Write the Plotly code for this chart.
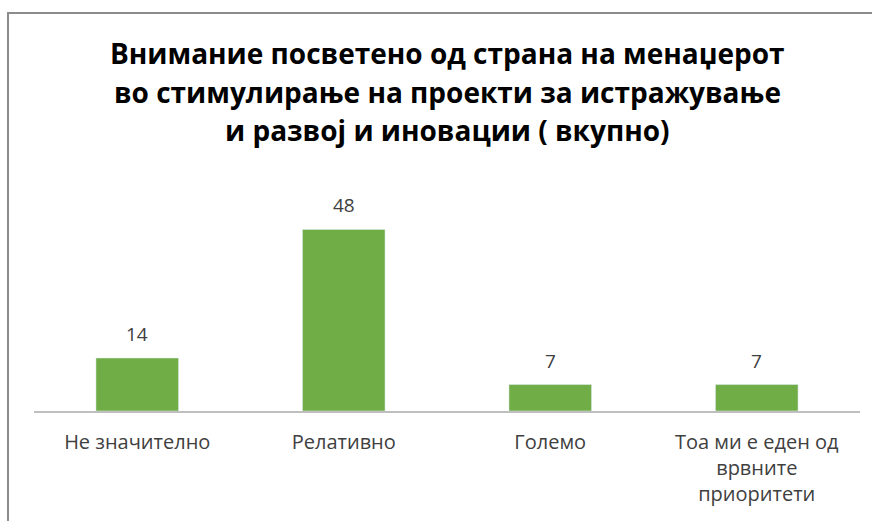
import plotly.graph_objects as go

categories = ["Не значително", "Релативно", "Големо", "Тоа ми е еден од врвните приоритети"]
tick_labels = ["Не значително", "Релативно", "Големо", "Тоа ми е еден од<br>врвните<br>приоритети"]
values = [14, 48, 7, 7]
title_lines = [
    "Внимание посветено од страна на менаџерот",
    "во стимулирање на проекти за истражување",
    "и развој и иновации ( вкупно)",
]

GREEN = "#70AD47"
FONT = "Open Sans"

fig = go.Figure()
fig.add_trace(go.Bar(
    x=categories, y=values, marker_color=GREEN, width=0.4,
    hoverinfo="skip",
))

for c, v in zip(categories, values):
    fig.add_annotation(x=c, y=v, text=str(v), showarrow=False, yanchor="bottom",
                       yshift=9, font=dict(family=FONT, size=19, color="#404040"))

# title lines (Excel-like line spacing)
PLOT_BOTTOM_PX, PLOT_H = 411, 227
for i, line in enumerate(title_lines):
    center_px = 53 + i * 38.5
    fig.add_annotation(text=line, xref="paper", yref="paper", x=0.5, xanchor="center",
                       y=(PLOT_BOTTOM_PX - center_px) / PLOT_H, yanchor="middle", showarrow=False,
                       font=dict(family=FONT, size=28, color="black", weight="bold"))

fig.update_layout(
    width=872, height=521,
    margin=dict(l=34, r=12, t=184, b=110),
    paper_bgcolor="white", plot_bgcolor="white",
    showlegend=False,
    xaxis=dict(tickvals=categories, ticktext=tick_labels, showline=True, linecolor="#BFBFBF",
               linewidth=2, ticks="", tickfont=dict(family=FONT, size=20, color="#404040"),
               ticklabelstandoff=12,
               showgrid=False, zeroline=False, fixedrange=True, automargin=False),
    yaxis=dict(range=[0, 60], visible=False, showgrid=False, zeroline=False, fixedrange=True,
               automargin=False),
    bargap=0.6,
)

fig.add_shape(type="rect", xref="paper", yref="paper", x0=(8 - 34) / 826, x1=1.2,
              y0=-1.0, y1=(411 - 13) / 227, line=dict(color="#8C8C8C", width=2), layer="below")

fig.write_html("out.html", post_script="document.body.style.margin='0';",
               config={"displayModeBar": False})
